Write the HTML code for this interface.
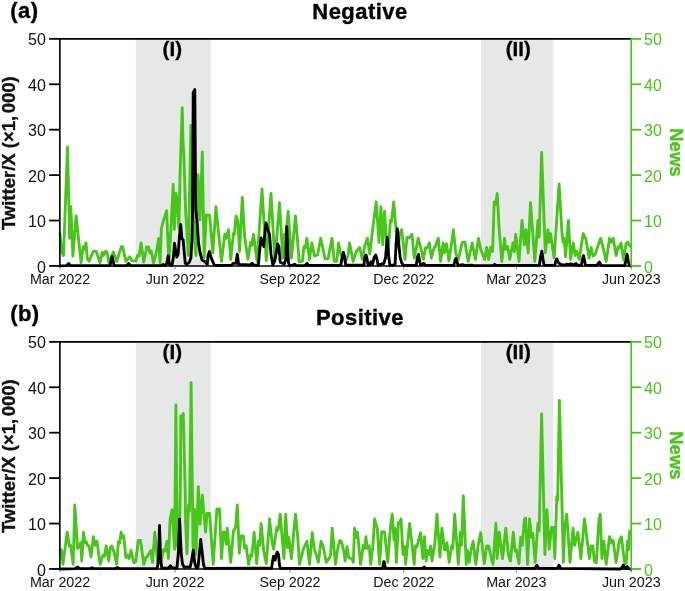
<!DOCTYPE html>
<html><head><meta charset="utf-8"><title>Negative / Positive time series</title>
<style>
html,body{margin:0;padding:0;background:#fff;}
svg{display:block}
text{font-family:"Liberation Sans",Arial,sans-serif;fill:#111}
.tk{font-size:16px}
.xk{font-size:14.25px}
.ttl{font-size:22px;font-weight:bold;fill:#000;letter-spacing:0.45px;stroke:#000;stroke-width:0.35px}
.rg{font-size:20.5px;font-weight:bold;fill:#000;stroke:#000;stroke-width:0.3px}
.yl{font-size:18.5px;font-weight:bold;stroke:#111;stroke-width:0.35px}
.nw{font-size:18.5px;font-weight:bold;stroke:#47c619;stroke-width:0.35px}
</style></head><body>
<svg width="685" height="591" viewBox="0 0 685 591">
<rect width="685" height="591" fill="#fff"/>
<rect x="135.8" y="38.9" width="74.9" height="227.1" fill="#e6e7e7"/>
<rect x="481.0" y="38.9" width="72.2" height="227.1" fill="#e6e7e7"/>
<polyline points="60.0,233.5 61.7,252.0 63.5,255.5 67.5,147.0 69.6,238.3 70.8,206.6 72.9,256.1 76.1,215.9 81.1,262.7 83.1,246.7 84.1,249.4 86.0,242.9 87.3,258.6 89.0,261.2 93.4,251.3 96.3,251.3 100.0,262.7 102.2,252.1 103.5,255.5 105.5,251.3 107.1,252.0 108.8,262.7 113.4,252.1 116.7,261.4 121.3,246.7 122.6,246.7 125.9,261.4 129.6,256.8 131.9,260.6 135.8,261.2 137.6,255.3 139.1,256.0 141.1,242.9 143.8,262.1 146.8,246.8 148.5,246.8 149.8,253.0 151.3,251.2 153.5,262.8 156.5,251.7 158.6,238.4 160.1,262.7 161.4,228.5 163.8,219.4 166.6,210.7 168.9,263.2 171.2,224.4 173.2,184.1 174.4,229.4 176.0,193.3 177.4,203.1 178.9,228.5 180.2,170.0 182.2,107.9 183.1,142.7 183.8,153.6 185.6,210.8 188.3,255.5 189.6,192.7 190.9,125.4 192.6,201.7 194.3,238.1 196.0,255.5 198.0,174.8 200.0,219.9 202.3,151.9 204.1,257.5 206.3,215.1 209.6,215.1 212.9,252.8 215.9,206.6 221.5,261.4 224.8,234.3 226.1,238.3 228.5,229.7 230.7,259.4 233.4,233.5 234.3,234.9 236.0,215.9 237.7,220.3 239.6,251.5 242.3,197.4 244.6,236.2 247.9,259.4 250.5,242.8 251.8,245.4 253.5,234.3 257.1,261.4 262.0,189.0 266.3,260.7 271.0,193.4 274.9,261.4 279.5,202.7 282.8,258.1 284.6,234.3 285.7,237.0 288.1,211.2 291.4,258.1 295.5,215.9 299.2,261.9 302.5,261.2 303.9,246.7 305.2,248.0 306.9,238.3 309.5,259.4 311.8,242.9 314.4,256.0 317.7,254.6 320.7,238.3 325.0,258.6 328.3,258.6 329.3,252.0 332.0,238.3 334.2,261.2 336.8,261.2 338.5,242.9 340.8,254.6 345.4,261.4 348.0,256.0 349.6,242.9 353.1,261.4 356.6,250.7 359.7,247.5 362.3,259.4 364.5,246.7 367.4,238.3 369.8,254.1 372.6,229.6 376.2,202.0 379.0,242.3 380.9,206.6 382.8,244.9 384.5,211.2 387.8,258.1 390.4,220.3 391.5,221.7 393.7,202.0 396.4,233.5 398.4,246.2 399.7,233.5 401.7,229.7 405.0,259.4 406.9,237.5 409.6,237.5 412.0,234.3 414.2,258.1 415.5,252.0 418.2,238.3 420.1,245.4 423.4,259.4 425.4,248.0 427.0,248.0 429.4,242.9 431.3,258.1 434.0,248.0 435.3,246.7 438.3,238.3 440.6,261.4 443.2,242.9 444.5,252.8 446.5,243.6 448.9,260.7 451.1,246.7 453.4,229.7 455.8,253.3 458.3,259.4 462.3,242.1 464.9,242.1 468.2,261.4 472.2,242.9 475.4,259.4 478.5,238.3 480.7,249.4 484.7,259.4 486.7,247.5 488.6,259.4 490.6,247.5 492.6,251.5 494.2,201.9 495.6,204.5 497.2,193.4 499.2,229.6 501.8,261.4 504.5,238.3 505.8,249.4 507.8,246.7 509.7,259.4 513.0,242.9 514.4,251.5 515.7,234.3 519.0,261.4 522.0,220.5 524.3,244.9 526.0,229.7 528.2,252.8 530.5,202.7 534.8,261.4 537.9,220.5 539.2,237.0 541.6,152.5 545.3,252.8 547.9,229.7 549.2,242.3 550.6,233.7 554.1,258.1 559.1,183.9 562.0,233.5 563.1,242.3 564.3,238.3 565.6,256.8 568.4,220.5 570.6,259.4 573.3,242.9 575.2,255.5 577.0,251.5 579.2,259.4 583.2,233.7 585.8,238.8 589.1,258.1 591.1,247.5 593.0,256.0 595.0,254.6 600.6,238.3 602.9,246.7 606.2,261.4 609.5,238.3 611.3,242.3 613.2,238.3 616.1,255.5 618.1,246.7 619.4,248.0 621.0,242.9 623.8,260.3 625.9,244.4 627.6,242.1 629.0,244.4 631.0,246.7" fill="none" stroke="#47c619" stroke-width="2.85" stroke-linejoin="round" stroke-linecap="round"/>
<polyline points="60.0,265.9 66.6,265.6 68.6,263.4 70.5,265.6 110.1,265.6 111.2,259.7 112.1,256.4 113.1,261.0 114.1,265.6 126.6,265.4 128.6,263.4 130.6,265.6 147.7,265.6 161.2,265.5 163.3,264.5 165.3,265.5 166.9,263.3 168.2,255.6 169.4,264.3 172.0,265.3 173.3,258.1 174.5,243.3 175.8,252.0 176.8,257.1 178.1,254.1 179.6,234.6 180.7,224.4 181.9,238.7 183.2,239.8 184.2,252.0 185.3,263.3 186.8,264.5 189.3,262.2 190.9,258.1 191.9,239.8 192.6,209.1 193.2,92.5 194.8,89.6 195.7,209.1 197.2,223.4 198.5,242.8 200.1,253.0 202.1,260.2 205.2,261.7 207.2,264.3 208.2,255.1 209.5,251.5 211.3,258.1 213.9,264.3 215.4,265.5 231.4,265.2 233.4,263.3 236.0,263.3 237.3,254.2 238.6,264.3 250.5,265.0 252.2,263.3 253.8,265.2 258.4,265.2 259.7,250.5 261.1,237.9 263.0,243.9 263.7,246.5 265.9,222.8 268.3,230.7 269.6,234.6 271.0,254.4 272.9,265.0 274.9,259.7 276.2,253.1 277.6,243.9 278.9,246.5 280.2,262.3 284.2,263.9 285.7,259.7 286.8,226.7 288.4,262.3 289.4,265.6 292.6,265.2 294.6,264.3 296.6,265.6 305.2,265.4 306.9,263.4 308.5,265.4 340.8,265.2 342.1,257.1 343.4,252.4 344.7,257.1 345.7,265.2 363.9,265.2 364.9,257.1 366.1,255.1 367.2,259.7 368.1,265.2 369.8,264.6 371.1,261.7 372.5,264.6 374.2,257.1 375.8,255.1 377.1,259.7 378.1,265.4 381.9,263.9 383.9,263.4 385.6,257.1 387.2,237.3 388.5,254.4 389.8,265.2 393.1,265.2 395.1,264.3 396.1,243.9 397.3,228.7 398.8,243.9 400.1,257.1 401.7,263.0 403.6,265.4 416.2,265.4 417.5,257.1 418.5,254.4 419.9,262.3 420.8,265.4 422.1,264.5 423.8,263.3 425.4,265.2 453.8,265.4 455.1,259.7 456.0,258.4 457.1,262.3 458.1,265.4 462.9,264.6 464.2,265.5 472.2,265.2 473.5,265.6 493.3,265.4 494.6,264.5 495.9,265.4 539.4,265.4 540.5,257.1 541.8,251.1 543.1,259.7 544.1,265.2 554.8,265.4 555.8,261.0 556.8,259.0 558.7,263.0 560.7,264.3 564.7,265.2 566.7,264.1 568.6,264.8 570.6,263.8 572.6,264.5 574.6,265.2 575.9,263.5 577.5,265.2 581.4,265.2 582.5,259.0 583.5,255.7 584.6,261.0 585.5,265.2 597.0,265.4 598.3,263.4 599.4,262.1 600.6,264.3 601.6,265.5 624.6,265.7 626.0,260.5 627.1,254.3 628.2,260.5 629.3,265.7 631.0,265.9" fill="none" stroke="#000" stroke-width="2.85" stroke-linejoin="round" stroke-linecap="round"/>
<path d="M59.85,266.60 V38.85 H631.2" fill="none" stroke="#000" stroke-width="1.6"/>
<path d="M59.15,265.95 H631.2" fill="none" stroke="#000" stroke-width="1.6"/>
<path d="M631.2,38.15 V266.65" fill="none" stroke="#47c619" stroke-width="1.6"/>
<path d="M49.150000000000006,38.85 H59.85" stroke="#000" stroke-width="1.8"/>
<path d="M631.2,38.85 H641.2" stroke="#47c619" stroke-width="1.8"/>
<text x="45.85" y="45.45" text-anchor="end" class="tk">50</text>
<text x="644.1" y="45.45" class="tk" style="fill:#47c619">50</text>
<path d="M49.150000000000006,84.27 H59.85" stroke="#000" stroke-width="1.8"/>
<path d="M631.2,84.27 H641.2" stroke="#47c619" stroke-width="1.8"/>
<text x="45.85" y="90.87" text-anchor="end" class="tk">40</text>
<text x="644.1" y="90.87" class="tk" style="fill:#47c619">40</text>
<path d="M49.150000000000006,129.69 H59.85" stroke="#000" stroke-width="1.8"/>
<path d="M631.2,129.69 H641.2" stroke="#47c619" stroke-width="1.8"/>
<text x="45.85" y="136.29" text-anchor="end" class="tk">30</text>
<text x="644.1" y="136.29" class="tk" style="fill:#47c619">30</text>
<path d="M49.150000000000006,175.11 H59.85" stroke="#000" stroke-width="1.8"/>
<path d="M631.2,175.11 H641.2" stroke="#47c619" stroke-width="1.8"/>
<text x="45.85" y="181.71" text-anchor="end" class="tk">20</text>
<text x="644.1" y="181.71" class="tk" style="fill:#47c619">20</text>
<path d="M49.150000000000006,220.53 H59.85" stroke="#000" stroke-width="1.8"/>
<path d="M631.2,220.53 H641.2" stroke="#47c619" stroke-width="1.8"/>
<text x="45.85" y="227.13" text-anchor="end" class="tk">10</text>
<text x="644.1" y="227.13" class="tk" style="fill:#47c619">10</text>
<path d="M49.150000000000006,265.95 H59.85" stroke="#000" stroke-width="1.8"/>
<path d="M631.2,265.95 H641.2" stroke="#47c619" stroke-width="1.8"/>
<text x="45.85" y="272.55" text-anchor="end" class="tk">0</text>
<text x="644.1" y="272.55" class="tk" style="fill:#47c619">0</text>
<path d="M60.00,265.95 V269.55" stroke="#333" stroke-width="0.6"/>
<text x="60.00" y="284.25" text-anchor="middle" class="xk">Mar 2022</text>
<path d="M175.00,265.95 V269.55" stroke="#333" stroke-width="0.6"/>
<text x="175.00" y="284.25" text-anchor="middle" class="xk">Jun 2022</text>
<path d="M290.00,265.95 V269.55" stroke="#333" stroke-width="0.6"/>
<text x="290.00" y="284.25" text-anchor="middle" class="xk">Sep 2022</text>
<path d="M403.75,265.95 V269.55" stroke="#333" stroke-width="0.6"/>
<text x="403.75" y="284.25" text-anchor="middle" class="xk">Dec 2022</text>
<path d="M516.25,265.95 V269.55" stroke="#333" stroke-width="0.6"/>
<text x="516.25" y="284.25" text-anchor="middle" class="xk">Mar 2023</text>
<path d="M631.25,265.95 V269.55" stroke="#333" stroke-width="0.6"/>
<text x="631.25" y="284.25" text-anchor="middle" class="xk">Jun 2023</text>
<text x="360" y="18.6" text-anchor="middle" class="ttl">Negative</text>
<text x="10.2" y="18.0" class="ttl">(a)</text>
<text x="172.3" y="56.2" text-anchor="middle" class="rg">(I)</text>
<text x="518.3" y="56.2" text-anchor="middle" class="rg">(II)</text>
<text transform="translate(15.1,230.1) rotate(-90)" class="yl">Twitter/X (×1,<tspan dx="-2.6"> 000)</tspan></text>
<text transform="translate(669.5,152.4) rotate(90)" text-anchor="middle" class="nw" style="fill:#47c619">News</text>
<rect x="135.8" y="341.9" width="74.9" height="227.1" fill="#e6e7e7"/>
<rect x="481.0" y="341.9" width="72.2" height="227.1" fill="#e6e7e7"/>
<polyline points="60.0,549.7 61.3,549.7 63.0,564.4 65.3,545.8 67.2,532.1 69.2,545.8 70.5,545.1 73.2,564.4 74.8,505.0 77.5,548.4 79.1,545.8 80.7,542.6 81.7,561.1 83.5,532.1 85.0,543.1 86.4,541.8 87.7,545.8 89.0,545.8 91.0,557.1 93.4,536.7 95.3,545.3 96.9,541.3 100.2,564.4 102.9,555.0 104.4,556.3 106.2,545.9 108.8,561.1 110.1,548.4 111.8,545.9 114.1,552.4 116.7,564.4 118.4,541.8 119.7,543.1 121.1,532.1 122.6,537.9 123.7,535.9 125.9,557.6 127.9,555.0 129.2,558.5 131.0,550.5 133.9,562.9 135.8,561.6 138.2,540.5 140.5,540.5 143.8,564.4 145.7,557.6 147.3,556.3 150.8,550.5 152.5,562.4 154.8,532.1 157.8,562.9 161.1,561.6 163.5,549.7 165.1,551.0 167.0,541.3 168.4,558.5 170.1,519.4 172.1,509.6 174.6,549.2 175.9,404.9 177.3,545.7 179.3,549.7 180.5,477.6 180.8,415.7 181.9,420.3 183.3,413.5 184.2,450.4 185.2,491.2 185.6,523.0 187.0,553.8 188.5,505.2 189.5,511.1 191.1,382.6 193.0,545.7 193.6,549.7 194.6,509.3 196.0,554.3 198.3,486.6 200.0,524.3 202.3,495.2 205.6,532.0 207.0,513.4 209.6,513.4 213.2,564.4 216.9,508.8 219.5,508.8 221.5,558.5 223.5,531.9 225.1,532.6 226.1,544.0 227.2,528.1 230.7,562.4 233.4,531.3 235.6,527.3 237.3,505.0 239.3,553.2 240.9,535.9 243.3,535.9 244.6,548.4 246.2,545.8 248.5,564.4 250.5,555.0 251.8,556.3 254.1,532.1 256.7,563.7 258.4,541.3 259.7,545.3 261.1,523.5 263.7,551.0 266.3,563.7 269.6,518.9 272.0,541.8 273.6,549.2 276.9,527.3 278.2,529.9 280.2,514.2 283.9,558.5 285.7,514.2 287.5,547.9 288.8,537.3 291.4,558.5 293.7,532.6 295.5,514.2 297.7,536.5 299.5,564.4 303.2,549.7 304.8,545.8 306.9,541.3 309.5,564.4 312.2,532.7 314.4,549.7 316.4,555.0 318.4,562.4 321.0,541.3 323.0,545.8 326.3,562.4 329.6,557.6 330.6,555.0 332.2,528.1 335.5,564.4 338.2,545.8 339.9,540.5 341.5,541.8 344.1,552.4 345.1,561.1 347.0,546.6 348.7,557.6 352.0,559.0 353.3,562.4 354.6,528.1 356.4,537.4 357.5,532.1 360.6,564.4 363.2,545.8 364.5,548.4 365.9,536.7 367.2,548.4 369.2,545.8 370.7,564.4 372.9,545.8 374.6,518.9 377.3,528.6 379.5,564.4 381.6,531.9 384.5,531.9 387.8,562.4 390.4,527.3 392.2,514.2 394.0,540.0 395.1,528.1 396.4,562.4 398.4,522.7 399.7,523.3 401.0,518.9 403.0,554.5 404.6,546.6 405.6,564.4 409.6,523.5 414.2,564.4 415.5,545.8 416.8,547.1 420.5,532.7 422.1,551.0 422.8,558.5 424.4,536.7 426.1,561.1 427.4,550.5 429.4,554.5 430.7,545.9 432.0,561.1 434.6,545.8 437.0,514.2 439.9,557.1 441.9,528.1 444.5,549.7 445.9,549.7 446.9,542.6 449.2,562.4 451.8,545.8 452.8,548.4 454.7,514.2 458.3,564.4 460.5,532.1 461.6,545.3 463.3,495.8 466.2,564.4 467.5,550.5 469.2,562.4 471.1,549.7 473.2,541.3 475.8,564.4 478.1,545.8 480.7,532.7 484.3,563.7 486.7,545.8 488.6,545.8 490.6,555.0 493.0,564.4 495.9,523.5 497.1,558.5 499.2,532.1 502.5,558.5 505.8,528.1 508.4,555.0 510.4,561.1 513.3,532.1 515.0,551.0 516.3,549.7 519.0,563.7 520.7,537.3 522.3,545.3 524.3,519.4 525.6,518.1 527.6,564.4 529.5,518.9 531.5,537.4 532.8,533.4 535.2,562.4 537.9,523.5 539.2,530.8 541.6,414.0 544.9,554.5 546.9,509.6 549.2,549.2 551.5,527.3 553.5,527.3 554.8,558.5 556.8,496.4 557.7,500.4 559.4,400.4 563.4,562.4 564.7,527.3 566.7,514.2 570.0,562.4 573.0,528.1 574.6,545.3 577.9,532.1 580.9,558.5 584.5,518.9 587.8,545.8 589.4,558.5 591.1,545.8 592.8,545.8 594.4,561.6 596.3,562.9 599.0,519.4 600.3,514.2 601.9,558.5 603.9,541.3 606.2,564.4 609.5,536.7 611.5,543.1 613.1,540.5 616.1,562.4 619.4,540.5 621.4,536.7 624.4,561.6 626.1,563.9 627.6,541.1 628.5,549.7 629.6,531.2 631.0,532.1" fill="none" stroke="#47c619" stroke-width="2.85" stroke-linejoin="round" stroke-linecap="round"/>
<polyline points="60.0,569.0 75.2,568.6 77.5,566.9 79.8,568.6 90.3,568.6 92.0,567.7 93.6,568.6 115.4,568.6 117.4,567.6 119.3,568.6 157.2,568.6 158.5,560.1 159.5,525.5 160.7,560.1 161.8,568.2 168.4,568.2 169.7,566.7 170.6,565.7 171.7,567.7 176.9,568.2 178.3,553.5 179.6,519.2 181.2,553.5 182.5,564.0 184.2,567.3 187.5,566.9 190.1,567.3 191.7,560.1 193.3,550.2 194.7,562.7 196.1,567.7 198.0,567.3 199.4,553.5 200.7,539.4 202.3,553.5 203.6,565.3 204.9,568.4 271.6,568.2 272.5,561.4 273.6,556.1 275.2,560.1 276.2,554.8 277.3,552.1 278.6,554.8 279.5,565.3 280.5,568.4 382.1,568.4 383.1,566.0 383.7,561.6 384.2,561.6 384.9,566.0 385.8,568.4 422.8,568.4 424.1,567.1 425.4,568.4 534.8,568.4 536.8,565.3 538.8,568.4 557.4,568.4 559.0,565.3 560.7,568.4 620.5,569.0 622.2,567.2 623.4,565.0 624.6,567.7 626.0,568.4 627.3,566.6 628.6,568.6 631.0,569.0" fill="none" stroke="#000" stroke-width="2.85" stroke-linejoin="round" stroke-linecap="round"/>
<path d="M59.85,569.60 V341.85 H631.2" fill="none" stroke="#000" stroke-width="1.6"/>
<path d="M59.15,568.95 H631.2" fill="none" stroke="#000" stroke-width="1.6"/>
<path d="M631.2,341.15 V569.65" fill="none" stroke="#47c619" stroke-width="1.6"/>
<path d="M49.150000000000006,341.85 H59.85" stroke="#000" stroke-width="1.8"/>
<path d="M631.2,341.85 H641.2" stroke="#47c619" stroke-width="1.8"/>
<text x="45.85" y="348.45" text-anchor="end" class="tk">50</text>
<text x="644.1" y="348.45" class="tk" style="fill:#47c619">50</text>
<path d="M49.150000000000006,387.27 H59.85" stroke="#000" stroke-width="1.8"/>
<path d="M631.2,387.27 H641.2" stroke="#47c619" stroke-width="1.8"/>
<text x="45.85" y="393.87" text-anchor="end" class="tk">40</text>
<text x="644.1" y="393.87" class="tk" style="fill:#47c619">40</text>
<path d="M49.150000000000006,432.69 H59.85" stroke="#000" stroke-width="1.8"/>
<path d="M631.2,432.69 H641.2" stroke="#47c619" stroke-width="1.8"/>
<text x="45.85" y="439.29" text-anchor="end" class="tk">30</text>
<text x="644.1" y="439.29" class="tk" style="fill:#47c619">30</text>
<path d="M49.150000000000006,478.11 H59.85" stroke="#000" stroke-width="1.8"/>
<path d="M631.2,478.11 H641.2" stroke="#47c619" stroke-width="1.8"/>
<text x="45.85" y="484.71" text-anchor="end" class="tk">20</text>
<text x="644.1" y="484.71" class="tk" style="fill:#47c619">20</text>
<path d="M49.150000000000006,523.53 H59.85" stroke="#000" stroke-width="1.8"/>
<path d="M631.2,523.53 H641.2" stroke="#47c619" stroke-width="1.8"/>
<text x="45.85" y="530.13" text-anchor="end" class="tk">10</text>
<text x="644.1" y="530.13" class="tk" style="fill:#47c619">10</text>
<path d="M49.150000000000006,568.95 H59.85" stroke="#000" stroke-width="1.8"/>
<path d="M631.2,568.95 H641.2" stroke="#47c619" stroke-width="1.8"/>
<text x="45.85" y="575.55" text-anchor="end" class="tk">0</text>
<text x="644.1" y="575.55" class="tk" style="fill:#47c619">0</text>
<path d="M60.00,568.95 V572.55" stroke="#333" stroke-width="0.6"/>
<text x="60.00" y="587.25" text-anchor="middle" class="xk">Mar 2022</text>
<path d="M175.00,568.95 V572.55" stroke="#333" stroke-width="0.6"/>
<text x="175.00" y="587.25" text-anchor="middle" class="xk">Jun 2022</text>
<path d="M290.00,568.95 V572.55" stroke="#333" stroke-width="0.6"/>
<text x="290.00" y="587.25" text-anchor="middle" class="xk">Sep 2022</text>
<path d="M403.75,568.95 V572.55" stroke="#333" stroke-width="0.6"/>
<text x="403.75" y="587.25" text-anchor="middle" class="xk">Dec 2022</text>
<path d="M516.25,568.95 V572.55" stroke="#333" stroke-width="0.6"/>
<text x="516.25" y="587.25" text-anchor="middle" class="xk">Mar 2023</text>
<path d="M631.25,568.95 V572.55" stroke="#333" stroke-width="0.6"/>
<text x="631.25" y="587.25" text-anchor="middle" class="xk">Jun 2023</text>
<text x="360" y="324.9" text-anchor="middle" class="ttl">Positive</text>
<text x="10.2" y="321.0" class="ttl">(b)</text>
<text x="172.3" y="359.2" text-anchor="middle" class="rg">(I)</text>
<text x="518.3" y="359.2" text-anchor="middle" class="rg">(II)</text>
<text transform="translate(15.1,533.1) rotate(-90)" class="yl">Twitter/X (×1,<tspan dx="-2.6"> 000)</tspan></text>
<text transform="translate(669.5,455.4) rotate(90)" text-anchor="middle" class="nw" style="fill:#47c619">News</text>
</svg>
</body></html>
